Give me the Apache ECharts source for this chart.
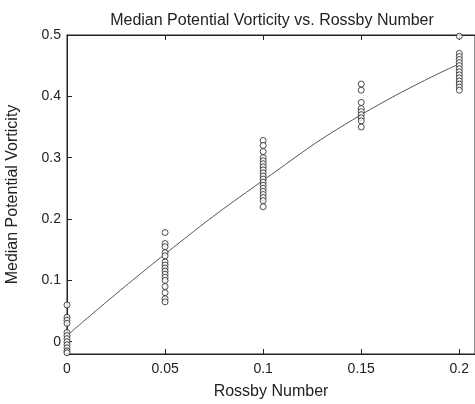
<!DOCTYPE html>
<html>
<head>
<meta charset="utf-8">
<script src="https://cdn.jsdelivr.net/npm/echarts@6/dist/echarts.min.js"></script>
<style>
  html, body { margin: 0; padding: 0; background: #fff; }
  #chart { width: 475px; height: 404px; }
</style>
</head>
<body>
<div id="chart"></div>
<script>
// Rossby number groups and the median potential vorticity samples in each
const rossbyGroups = [0, 0.05, 0.1, 0.15, 0.2];
const pvAt000 = [0.06, 0.04, 0.035, 0.03, 0.015, 0.01, 0.005, 0.0, -0.005, -0.01, -0.015, -0.018];
const pvAt005 = [0.178, 0.16, 0.155, 0.145, 0.14, 0.13, 0.125, 0.12, 0.115, 0.11, 0.105, 0.1, 0.09, 0.08, 0.07, 0.065];
const pvAt010 = [0.328, 0.32, 0.31, 0.3, 0.295, 0.29, 0.285, 0.28, 0.275, 0.27, 0.265, 0.26, 0.255, 0.25, 0.245, 0.24, 0.235, 0.23, 0.22];
const pvAt015 = [0.42, 0.41, 0.39, 0.38, 0.375, 0.37, 0.365, 0.36, 0.35];
const pvAt020 = [0.498, 0.47, 0.465, 0.46, 0.455, 0.45, 0.445, 0.44, 0.435, 0.43, 0.425, 0.42, 0.415, 0.41];
// fitted trend through the groups
const fitX = [0, 0.05, 0.1, 0.15, 0.2];
const fitY = [0.01, 0.143, 0.263, 0.37, 0.453];
// tick labels
const xTicks = [0, 0.05, 0.1, 0.15, 0.2];
const yTicks = [0, 0.1, 0.2, 0.3, 0.4, 0.5];

const groups = [pvAt000, pvAt005, pvAt010, pvAt015, pvAt020];
const scatterData = [];
groups.forEach((vals, i) => vals.forEach(v => scatterData.push([rossbyGroups[i], v])));
const fitData = fitX.map((x, i) => [x, fitY[i]]);

const font = '"Liberation Sans", Arial, sans-serif';
const ink = '#222';
const fmt = v => (Math.abs(v) < 1e-9 ? '0' : String(+v.toFixed(2)));

const chart = echarts.init(document.getElementById('chart'), null, { renderer: 'canvas' });
chart.setOption({
  animation: false,
  backgroundColor: '#fff',
  title: {
    text: 'Median Potential Vorticity vs. Rossby Number',
    left: 267, top: 8, textAlign: 'center',
    textStyle: { fontFamily: font, fontSize: 16, fontWeight: 'normal', color: ink }
  },
  grid: {
    left: 67, right: 0, top: 35, bottom: 50,
    outerBoundsMode: 'none', containLabel: false,
    show: true, borderColor: ink, borderWidth: 1
  },
  xAxis: [{
    type: 'value', min: 0, max: 0.208, position: 'bottom',
    name: 'Rossby Number', nameLocation: 'middle', nameGap: 30,
    nameTextStyle: { fontFamily: font, fontSize: 16, color: ink },
    axisLine: { show: true, onZero: false, lineStyle: { color: ink, width: 1 } },
    axisTick: { show: true, inside: true, length: 5, customValues: xTicks, lineStyle: { color: ink } },
    axisLabel: { customValues: xTicks, formatter: fmt, margin: 8, fontFamily: font, fontSize: 14, color: ink },
    splitLine: { show: false }
  }, {
    type: 'value', min: 0, max: 0.208, position: 'top',
    axisLine: { show: true, onZero: false, lineStyle: { color: ink, width: 1 } },
    axisTick: { show: true, inside: true, length: 5, customValues: xTicks, lineStyle: { color: ink } },
    axisLabel: { show: false },
    splitLine: { show: false }
  }],
  yAxis: {
    type: 'value', min: -0.02, max: 0.5,
    name: 'Median Potential Vorticity', nameLocation: 'middle', nameGap: 46, nameRotate: 90,
    nameTextStyle: { fontFamily: font, fontSize: 16, color: ink },
    axisLine: { show: true, onZero: false, lineStyle: { color: ink, width: 1 } },
    axisTick: { show: true, inside: true, length: 5, customValues: yTicks, lineStyle: { color: ink } },
    axisLabel: { customValues: yTicks, formatter: fmt, margin: 6, fontFamily: font, fontSize: 14, color: ink },
    splitLine: { show: false }
  },
  series: [{
    type: 'line', data: fitData, smooth: true, showSymbol: false, symbol: 'none',
    lineStyle: { color: '#555', width: 1 }, z: 2
  }, {
    type: 'scatter', data: scatterData, symbol: 'circle', symbolSize: 6,
    itemStyle: { color: '#fff', borderColor: '#222', borderWidth: 1 }, z: 3
  }]
});
</script>
</body>
</html>
